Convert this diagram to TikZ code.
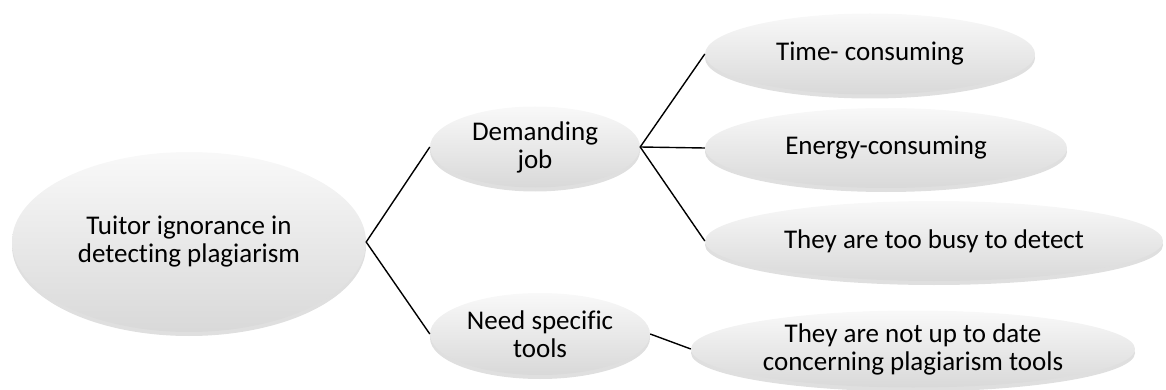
\documentclass[tikz,border=0pt]{standalone}
\usepackage{fontspec}
\setmainfont[Ligatures=NoCommon]{Carlito}
\usetikzlibrary{shapes.geometric,shadows}
\begin{document}
\begin{tikzpicture}[x=1pt,y=-1pt,
  bubble/.style={ellipse, inner sep=0pt, align=center,
    top color=gray!5, bottom color=gray!30, draw=none,
    drop shadow={shadow xshift=0pt, shadow yshift=-4pt, opacity=0.25, fill=gray},
    font=\fontsize{27}{28}\selectfont},
  link/.style={draw=black, line width=1.4pt}]
\useasboundingbox (0,0) rectangle (1166,390);
\node[bubble, minimum width=354, minimum height=180] (root) at (189,242) {Tuitor ignorance in\\detecting plagiarism};
\node[bubble, minimum width=210, minimum height=81] (dj) at (535,147) {Demanding\\job};
\node[bubble, minimum width=220, minimum height=82] (nst) at (540,334) {Need specific\\tools};
\node[bubble, minimum width=330, minimum height=81] (tc) at (870,54) {Time- consuming};
\node[bubble, minimum width=362, minimum height=80] (ec) at (886,148) {Energy-consuming};
\node[bubble, minimum width=458, minimum height=80] (tb) at (934,241) {They are too busy to detect};
\node[bubble, minimum width=444, minimum height=77] (nu) at (913,349) {They are not up to date\\concerning plagiarism tools};
\draw[link] (dj.west) -- (root.east) -- (nst.west);
\draw[link] (tc.west) -- (dj.east) -- (tb.west);
\draw[link] (dj.east) -- (ec.west);
\draw[link] (nst.east) -- (nu.west);
\end{tikzpicture}
\end{document}
